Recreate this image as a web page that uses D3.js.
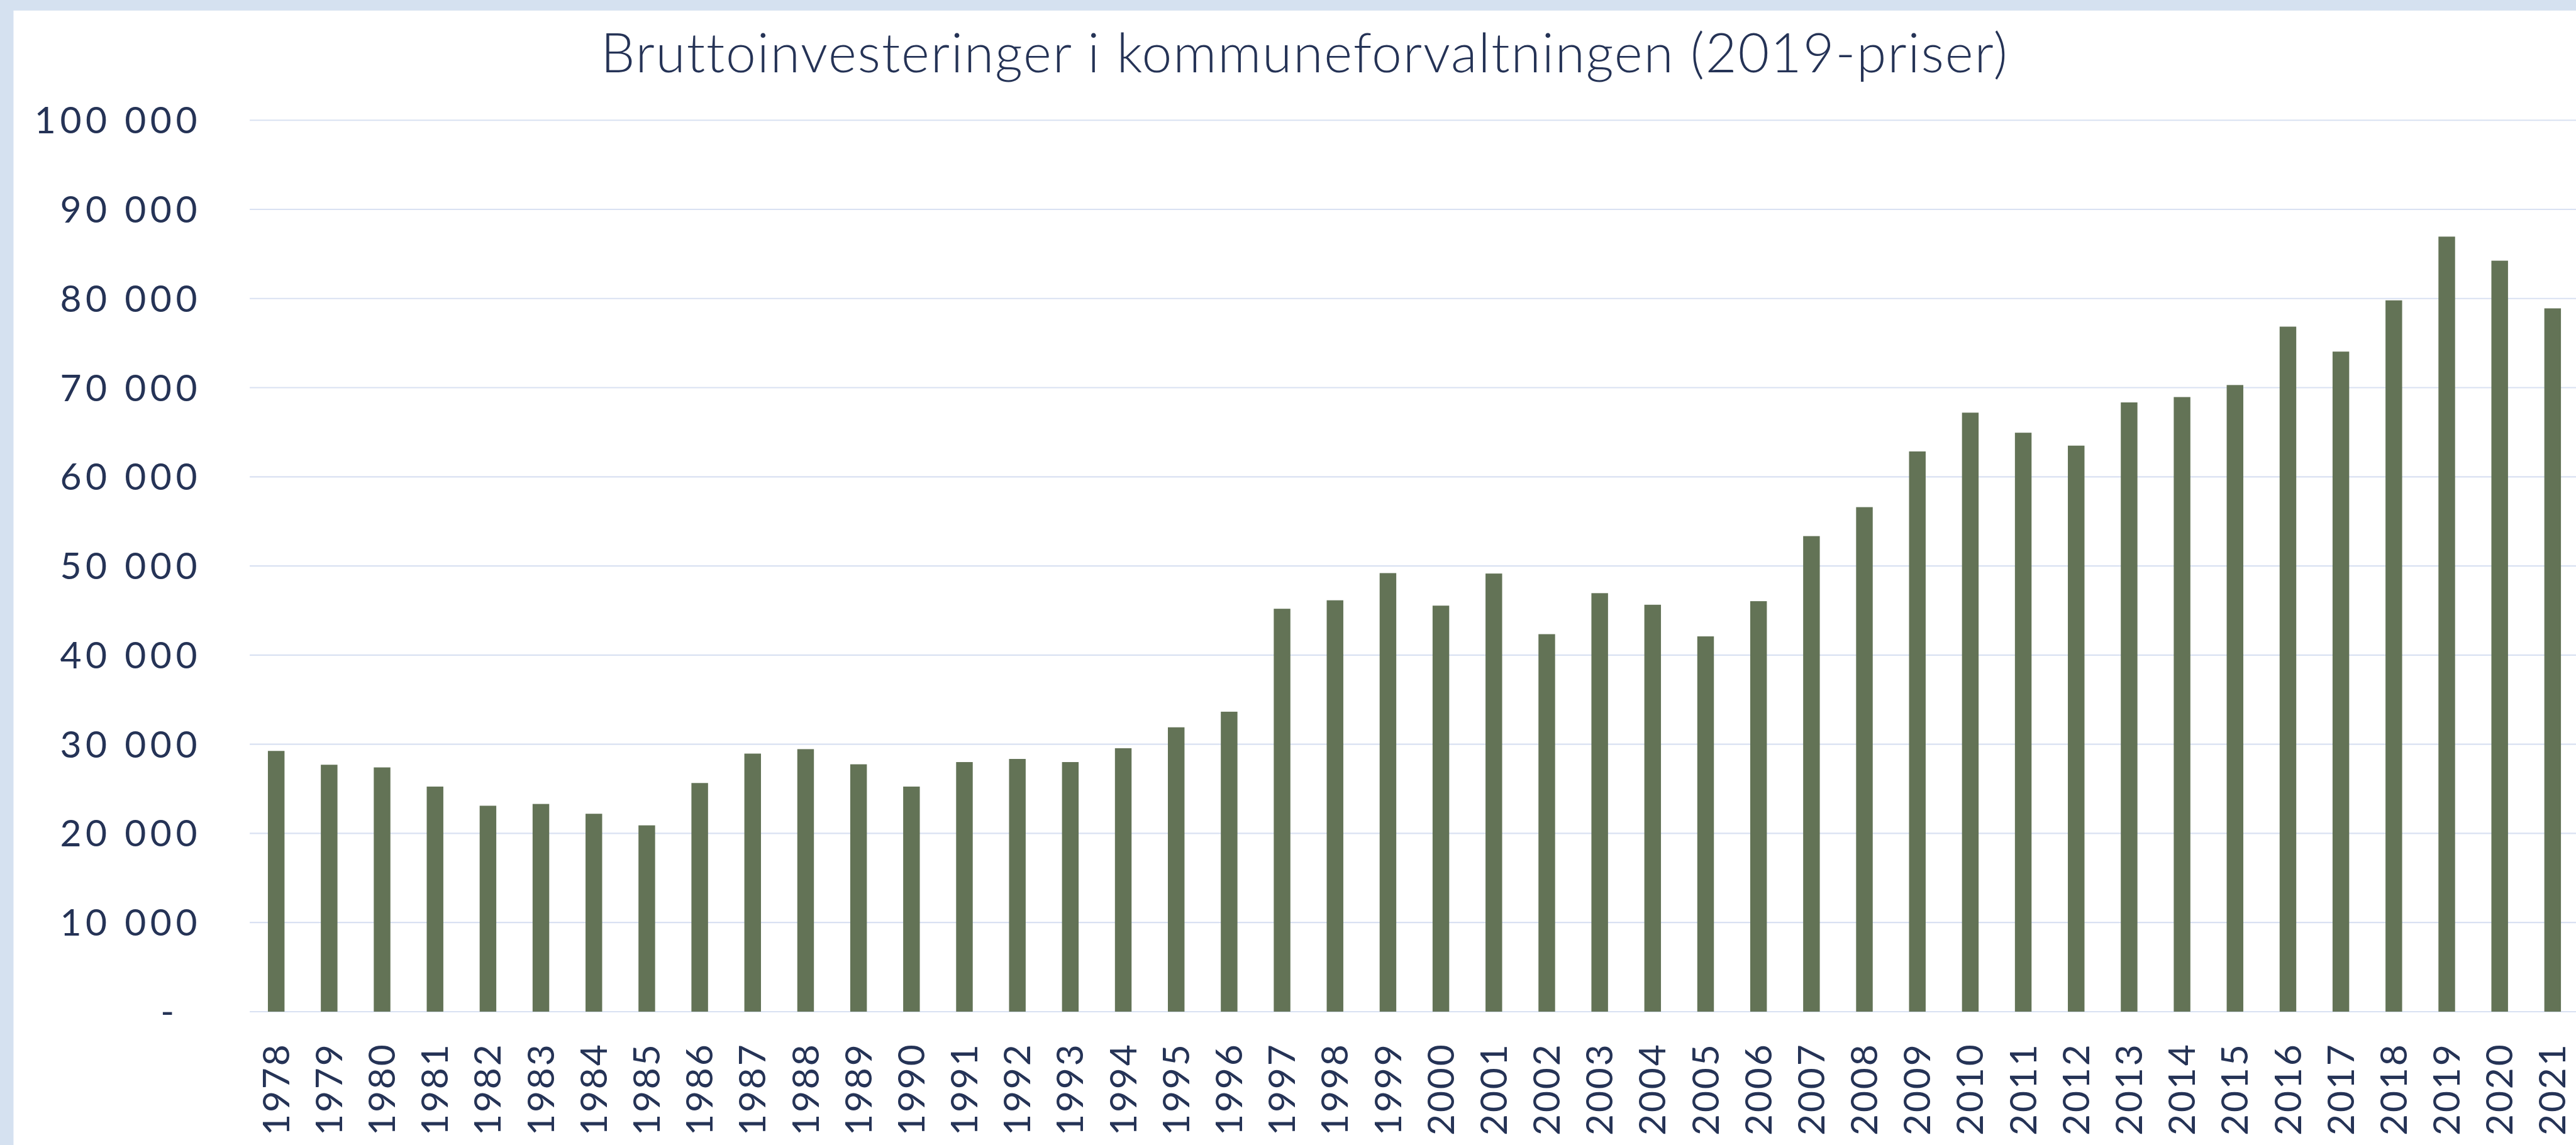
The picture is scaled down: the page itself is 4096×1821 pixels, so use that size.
<!DOCTYPE html>
<html>
<head>
<meta charset="utf-8">
<script src="https://cdnjs.cloudflare.com/ajax/libs/d3/7.8.5/d3.min.js"></script>
<style>
  html, body { margin: 0; padding: 0; background: #ffffff; }
  svg { display: block; }
</style>
</head>
<body>
<svg id="chart" width="4096" height="1821"></svg>
<script>
const title = "Bruttoinvesteringer i kommuneforvaltningen (2019-priser)";
const years = ["1978","1979","1980","1981","1982","1983","1984","1985","1986","1987",
  "1988","1989","1990","1991","1992","1993","1994","1995","1996","1997",
  "1998","1999","2000","2001","2002","2003","2004","2005","2006","2007",
  "2008","2009","2010","2011","2012","2013","2014","2015","2016","2017",
  "2018","2019","2020","2021"];
const values = [29250, 27700, 27400, 25250, 23100, 23300, 22200, 20900, 25650, 28950,
  29450, 27750, 25250, 28000, 28350, 28000, 29550, 31900, 33650, 45200,
  46150, 49200, 45550, 49150, 42350, 46950, 45650, 42100, 46050, 53350,
  56600, 62850, 67200, 64950, 63500, 68350, 68950, 70300, 76850, 74050,
  79800, 86950, 84250, 78900];
const yTicks = [0, 10000, 20000, 30000, 40000, 50000, 60000, 70000, 80000, 90000, 100000];

const S = 4096 / 4389;
const W = 4096, H = 1821;
const navy = "#253356";
const gridCol = "#d9e1f2";
const barCol = "#637356";
const bandCol = "#d5e1f0";
const font = "Lato, 'Open Sans', sans-serif";

const svg = d3.select("#chart");

// background frame
svg.append("rect").attr("x", 0).attr("y", 0).attr("width", W).attr("height", H).attr("fill", bandCol);
svg.append("rect").attr("x", 23 * S).attr("y", 18 * S).attr("width", W).attr("height", H).attr("fill", "#ffffff");

// scales
const x = d3.scaleBand().domain(years).range([425.5 * S, 4394.3 * S]).paddingInner(0.686).paddingOuter(0.343);
const y = d3.scaleLinear().domain([0, 100000]).range([1724 * S, 205 * S]);

const loc = d3.formatLocale({ decimal: ",", thousands: "\u00a0", grouping: [3], currency: ["", ""] });
const fmt = loc.format(",d");

// gridlines
svg.append("g").selectAll("line").data(yTicks).join("line")
  .attr("x1", 425.5 * S).attr("x2", W)
  .attr("y1", d => y(d)).attr("y2", d => y(d))
  .attr("stroke", gridCol).attr("stroke-width", 2.2 * S);

// y axis labels
const yAxis = d3.axisLeft(y).tickValues(yTicks.filter(d => d > 0)).tickSize(0).tickPadding(0).tickFormat(fmt);
const gy = svg.append("g").attr("transform", `translate(${336 * S},0)`).call(yAxis);
gy.select(".domain").remove();
gy.selectAll("text")
  .attr("fill", navy).attr("font-family", font).attr("font-size", 63 * S)
  .attr("letter-spacing", 7 * S).attr("dy", "0.35em").attr("x", 7 * S);
// zero label shown as dash
svg.append("text").text("-")
  .attr("x", 297 * S).attr("y", y(0)).attr("dy", "0.35em")
  .attr("text-anchor", "end").attr("fill", navy)
  .attr("font-family", font).attr("font-size", 63 * S);

// bars
svg.append("g").selectAll("rect").data(values).join("rect")
  .attr("x", (d, i) => x(years[i]))
  .attr("width", x.bandwidth())
  .attr("y", d => y(d))
  .attr("height", d => y(0) - y(d))
  .attr("fill", barCol);

// x axis labels
const xAxis = d3.axisBottom(x).tickSize(0).tickPadding(0);
const gx = svg.append("g").attr("transform", `translate(0,${1724 * S})`).call(xAxis);
gx.select(".domain").remove();
gx.selectAll("text")
  .attr("fill", navy).attr("font-family", font).attr("font-size", 63 * S)
  .attr("letter-spacing", 3 * S)
  .attr("text-anchor", "end")
  .attr("transform", `translate(0,${53 * S}) rotate(-90)`)
  .attr("x", 0).attr("y", 0).attr("dy", "0.35em");

// title
svg.append("text").text(title)
  .attr("x", 2223 * S).attr("y", 123 * S)
  .attr("text-anchor", "middle").attr("fill", navy)
  .attr("font-family", font).attr("font-size", 92 * S).attr("font-weight", 300)
  .attr("letter-spacing", 2 * S);
</script>
</body>
</html>
